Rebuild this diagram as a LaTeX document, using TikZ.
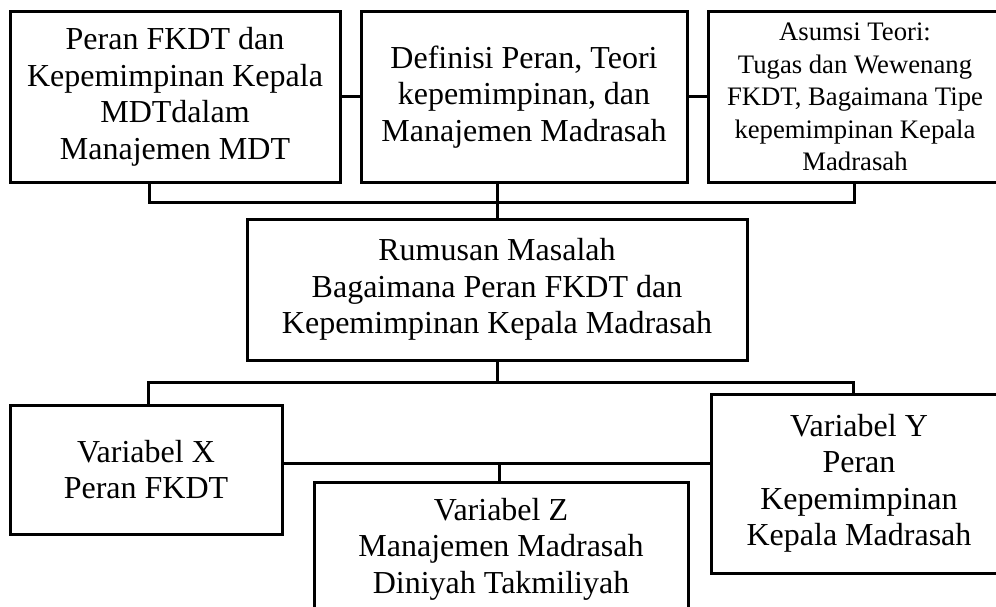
\documentclass[tikz,border=0pt]{standalone}
\usepackage{fontspec}
\setmainfont{Liberation Serif}
\begin{document}
\begin{tikzpicture}[x=1pt,y=1pt,
  box/.style={draw=black, line width=3pt, rectangle, inner sep=0pt, align=center,
    font=\fontsize{32}{36.5}\selectfont},
  smallbox/.style={box, font=\fontsize{26.7}{32.5}\selectfont},
  conn/.style={draw=black, line width=3pt}]
\useasboundingbox (0,0) rectangle (996,-607);
\node[box, minimum width=330, minimum height=170] (A) at (175,-97)
  {Peran FKDT dan\\Kepemimpinan Kepala\\MDTdalam\\Manajemen MDT};
\node[box, minimum width=326, minimum height=170] (B) at (524,-97)
  {Definisi Peran, Teori\\kepemimpinan, dan\\Manajemen Madrasah};
\node[smallbox, minimum width=294, minimum height=170] (C) at (855,-97)
  {Asumsi Teori:\\Tugas dan Wewenang\\FKDT, Bagaimana Tipe\\kepemimpinan Kepala\\Madrasah};
\node[box, minimum width=500, minimum height=141] (R) at (497,-289.5)
  {Rumusan Masalah\\Bagaimana Peran FKDT dan\\Kepemimpinan Kepala Madrasah};
\node[box, minimum width=272, minimum height=129] (X) at (146,-469.5)
  {Variabel X\\Peran FKDT};
\node[box, minimum width=296, minimum height=179] (Y) at (859,-483.5)
  {Variabel Y\\Peran\\Kepemimpinan\\Kepala Madrasah};
\node[box, minimum width=374, minimum height=134] (Z) at (501,-549)
  {Variabel Z\\Manajemen Madrasah\\Diniyah Takmiliyah};
\coordinate (tl) at (149,-202);
\coordinate (tr) at (854,-202);
\coordinate (bl) at (148,-382);
\coordinate (br) at (853,-382);
\coordinate (mid) at (499,-463);
\draw[conn] (A.east) -- (B.west);
\draw[conn] (B.east) -- (C.west);
\draw[conn] (tl |- A.south) -- (tl) -- (tr) -- (tr |- C.south);
\draw[conn] (R.north |- B.south) -- (R.north);
\draw[conn] (R.south) -- (R.south |- bl);
\draw[conn] (bl |- X.north) -- (bl) -- (br) -- (br |- Y.north);
\draw[conn] (X.east |- mid) -- (Y.west |- mid);
\draw[conn] (mid) -- (mid |- Z.north);
\end{tikzpicture}
\end{document}
